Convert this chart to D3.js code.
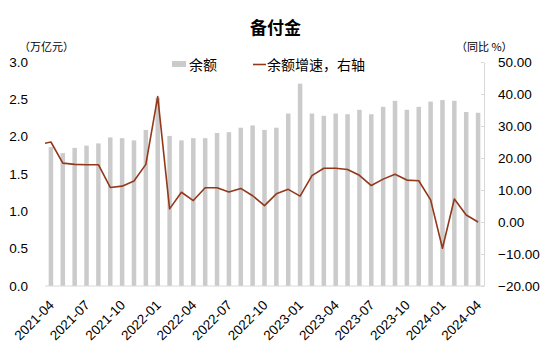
<!DOCTYPE html>
<html>
<head>
<meta charset="utf-8">
<script src="https://cdn.jsdelivr.net/npm/d3@7/dist/d3.min.js"></script>
<style>
  body { margin: 0; background: #fff; }
  text { font-family: "Liberation Sans", Arial, "Noto Sans CJK SC", sans-serif; fill: #000; }
  .cjk { font-family: "Noto Sans CJK SC", "Liberation Sans", sans-serif; }
</style>
</head>
<body>
<div class="chart"></div>
<script>
// months shown as bars
var months = ["2021-04","2021-05","2021-06","2021-07","2021-08","2021-09","2021-10","2021-11","2021-12",
  "2022-01","2022-02","2022-03","2022-04","2022-05","2022-06","2022-07","2022-08","2022-09","2022-10","2022-11","2022-12",
  "2023-01","2023-02","2023-03","2023-04","2023-05","2023-06","2023-07","2023-08","2023-09","2023-10","2023-11","2023-12",
  "2024-01","2024-02","2024-03","2024-04"];

// 余额 (万亿元)
var balance = [1.86,1.78,1.85,1.88,1.91,1.99,1.98,1.95,2.09,
  2.52,2.01,1.95,1.98,1.98,2.05,2.06,2.12,2.15,2.09,2.12,2.31,
  2.71,2.31,2.28,2.31,2.30,2.36,2.30,2.40,2.48,2.36,2.40,2.47,
  2.49,2.48,2.33,2.32];

// 余额增速 (%), first value is 2021-03 (cut off at the left edge)
var growthMonths = ["2021-03"].concat(months);
var growth = [24.2,25.0,18.4,18.0,17.9,17.9,10.8,11.2,12.8,18.0,
  39.2,4.1,9.3,6.7,10.7,10.7,9.4,10.5,8.2,5.1,8.8,10.2,
  8.1,14.5,16.8,16.8,16.4,14.6,11.4,13.4,14.9,13.1,12.9,6.9,
  -8.2,7.2,2.2,0.0];

var leftTicks = [0, 0.5, 1.0, 1.5, 2.0, 2.5, 3.0];
var rightTicks = [-20, -10, 0, 10, 20, 30, 40, 50];

var svgWidth = 550;
var svgHeight = 364;
var plot = { left: 45, right: 484, top: 62, bottom: 286 };

var svg = d3.select(".chart")
  .append("svg")
  .attr("width", svgWidth)
  .attr("height", svgHeight);

var x = d3.scaleBand()
  .domain(months)
  .range([plot.left, plot.right])
  .paddingInner(0.62)
  .paddingOuter(0.31);

var yLeft = d3.scaleLinear().domain([0, 3]).range([plot.bottom, plot.top]);
var yRight = d3.scaleLinear().domain([-20, 50]).range([plot.bottom, plot.top]);

function cx(m, i) {
  // 2021-03 sits one step left of the first bar
  if (i === 0 && m === "2021-03") return x(months[0]) + x.bandwidth() / 2 - x.step();
  return x(m) + x.bandwidth() / 2;
}

// title
svg.append("text")
  .attr("class", "cjk")
  .attr("x", 275.5)
  .attr("y", 34)
  .attr("text-anchor", "middle")
  .style("font-size", "17px")
  .style("font-weight", "bold")
  .text("备付金");

// unit labels
svg.append("text").attr("class", "cjk")
  .attr("x", 19).attr("y", 51)
  .style("font-size", "11px")
  .text("（万亿元）");
svg.append("text").attr("class", "cjk")
  .attr("x", 456).attr("y", 51)
  .style("font-size", "11px")
  .text("（同比 %）");

// bars
svg.append("g").selectAll("rect")
  .data(balance)
  .enter()
  .append("rect")
  .attr("x", (d, i) => x(months[i]))
  .attr("y", d => yLeft(d))
  .attr("width", x.bandwidth())
  .attr("height", d => yLeft(0) - yLeft(d))
  .attr("fill", "#cbcbcb");

// bottom axis line
svg.append("line")
  .attr("x1", plot.left).attr("x2", plot.right)
  .attr("y1", plot.bottom).attr("y2", plot.bottom)
  .attr("stroke", "#d9d9d9");

// left axis (labels only)
var leftAxis = d3.axisLeft(yLeft).tickValues(leftTicks).tickFormat(d3.format(".1f")).tickSize(0).tickPadding(17);
var gl = svg.append("g").attr("transform", `translate(${plot.left},0)`).call(leftAxis);
gl.select(".domain").remove();
gl.selectAll("text").style("font-size", "13.5px").style("font-family", "Liberation Sans, Arial, sans-serif");

// right axis
var rightAxis = d3.axisRight(yRight).tickValues(rightTicks).tickFormat(d3.format(".2f"))
  .tickSizeInner(-3).tickSizeOuter(0).tickPadding(14);
var gr = svg.append("g").attr("transform", `translate(${plot.right},0)`).call(rightAxis);
gr.select(".domain").attr("stroke", "#d9d9d9");
gr.selectAll(".tick line").attr("stroke", "#d9d9d9");
gr.selectAll("text").style("font-size", "13.5px").style("font-family", "Liberation Sans, Arial, sans-serif");

// x labels every 3 months
svg.append("g").selectAll("text")
  .data(months.filter((m, i) => i % 3 === 0))
  .enter()
  .append("text")
  .attr("transform", m => `translate(${x(m) + x.bandwidth() / 2 + 4},306) rotate(-45)`)
  .attr("text-anchor", "end")
  .style("font-size", "13.5px")
  .text(m => m);

// line, clipped to the plot area
svg.append("clipPath").attr("id", "plotClip")
  .append("rect")
  .attr("x", plot.left).attr("y", 0)
  .attr("width", plot.right - plot.left).attr("height", svgHeight);

var line = d3.line()
  .x((d, i) => cx(growthMonths[i], i))
  .y(d => yRight(d));

svg.append("path")
  .datum(growth)
  .attr("clip-path", "url(#plotClip)")
  .attr("d", line)
  .attr("fill", "none")
  .attr("stroke", "#93391b")
  .attr("stroke-width", 1.6)
  .attr("stroke-linejoin", "round");

// legend
svg.append("rect").attr("x", 172).attr("y", 61).attr("width", 14).attr("height", 6).attr("fill", "#cbcbcb");
svg.append("text").attr("class", "cjk").attr("x", 189).attr("y", 70).style("font-size", "14px").text("余额");
svg.append("line").attr("x1", 253).attr("x2", 266).attr("y1", 64.5).attr("y2", 64.5)
  .attr("stroke", "#93391b").attr("stroke-width", 1.6);
svg.append("text").attr("class", "cjk").attr("x", 267).attr("y", 70).style("font-size", "14px").text("余额增速，右轴");
</script>
</body>
</html>
